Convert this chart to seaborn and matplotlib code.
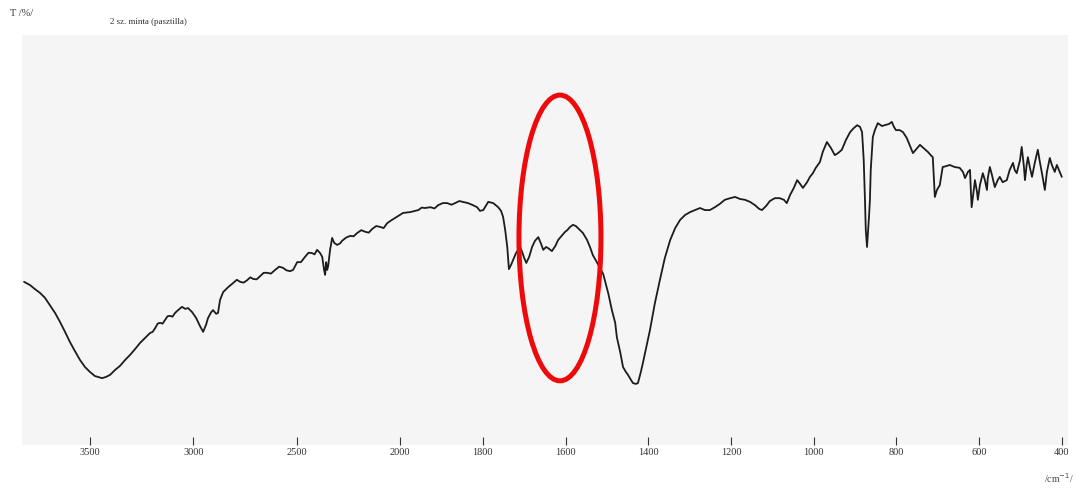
import numpy as np
import pandas as pd
import matplotlib
matplotlib.use("Agg")
import matplotlib.pyplot as plt
from matplotlib.patches import Ellipse
import seaborn as sns

# IR spectrum of sample "2 sz. minta" (KBr pellet), transmittance vs wavenumber
# High-wavenumber part (recorded on the compressed 4000-2000 cm-1 scale)
wn_high = [3819, 3790, 3766, 3742, 3718, 3694, 3669, 3645, 3621, 3597, 3573, 3548,
           3524, 3500, 3476, 3461, 3442, 3423, 3403, 3379, 3355, 3331, 3306, 3282,
           3258, 3234, 3210, 3197, 3185, 3173, 3161, 3149, 3137, 3125, 3113, 3101,
           3089, 3074, 3055, 3040, 3026,
           3006, 2987, 2968, 2953, 2939, 2929, 2914, 2905, 2890, 2881, 2871, 2856,
           2832, 2808, 2790, 2774, 2757, 2740, 2725, 2711, 2694, 2677, 2660, 2644,
           2625, 2605, 2585, 2566, 2550, 2532, 2518, 2498, 2480,
           2460, 2443, 2426, 2414, 2402, 2387, 2377, 2368, 2363, 2358, 2353, 2348,
           2339, 2329, 2319, 2305, 2290, 2281, 2261, 2242, 2225, 2208, 2188, 2169,
           2152, 2135, 2116, 2097, 2080, 2063, 2043, 2024]
t_high = [39.8, 39.0, 38.0, 37.1, 35.9, 34.1, 32.2, 30.0, 27.6, 25.1, 22.9, 20.7,
          19.0, 17.8, 16.8, 16.6, 16.3, 16.6, 17.1, 18.3, 19.3, 20.7, 22.0, 23.4,
          24.9, 26.1, 27.3, 27.6, 28.5, 29.6, 29.8, 29.6, 30.5, 31.4, 31.5, 31.3,
          32.2, 32.9, 33.7, 33.2, 33.4,
          32.4, 31.0, 29.0, 27.6, 29.3, 31.0, 32.4, 32.9, 32.0, 32.2, 35.4, 37.3,
          38.5, 39.5, 40.3, 39.8, 39.6, 40.2, 40.9, 40.5, 40.4, 41.2, 42.0, 42.0,
          41.8, 42.7, 43.5, 43.2, 42.6, 42.4, 42.7, 44.6, 44.6,
          45.9, 46.9, 46.8, 46.5, 47.6, 46.8, 45.9, 42.7, 41.5, 44.6, 42.7, 43.7,
          47.6, 50.5, 49.3, 48.8, 49.2, 49.8, 50.6, 51.0, 50.9, 51.7, 52.4, 52.0,
          51.8, 52.7, 53.4, 53.2, 52.9, 54.1, 54.8, 55.4]

# Low-wavenumber part (2000-400 cm-1 scale)
wn_low = [1993, 1976, 1956, 1948, 1940, 1927, 1917, 1908, 1897, 1886, 1876, 1867,
          1857, 1848, 1836, 1824, 1814,
          1807, 1799, 1787, 1775, 1763, 1756, 1751, 1746, 1741, 1737, 1732, 1727,
          1720, 1710, 1705, 1700, 1695, 1688, 1681, 1674, 1666, 1659, 1654, 1647,
          1642, 1637, 1633, 1625, 1618, 1608, 1601, 1596, 1589, 1582, 1575, 1565,
          1558, 1548, 1541, 1534, 1526, 1517, 1509, 1505, 1497, 1488, 1480, 1476,
          1468, 1461, 1454, 1449, 1442, 1437, 1430, 1425, 1418, 1413, 1405, 1396,
          1384, 1372, 1360, 1347, 1335, 1323, 1311, 1299, 1287, 1275, 1263, 1251,
          1239, 1227, 1215, 1202, 1190, 1178, 1166, 1154, 1142, 1132, 1125, 1115,
          1106, 1094, 1082, 1072, 1065, 1057, 1048, 1040, 1033, 1026, 1016, 1009,
          1002, 995, 985, 978, 968, 958, 949, 941, 932, 922, 912, 903,
          895, 888, 883, 879, 876, 874, 871, 869, 866, 864, 862, 857,
          852, 845, 835, 828, 818, 811, 806, 801, 792, 784, 775, 767,
          760, 753, 743, 734, 724, 717, 712, 707, 702, 695, 690, 688,
          680, 671, 659, 647, 639, 634, 627, 622, 620, 618, 613, 610,
          605, 603, 598, 591, 586, 581, 579, 574, 569, 562, 555, 550,
          543, 533, 526, 518, 514, 509, 501, 497, 492, 489, 485, 482,
          477, 472, 465, 458, 453, 448, 443, 441, 436, 429, 424, 417,
          412, 410, 405, 400]
t_low = [56.6, 56.8, 57.3, 57.9, 57.8, 58.0, 57.7, 58.5, 59.0, 59.0, 58.6, 59.0,
         59.5, 59.3, 59.0, 58.5, 58.0,
         57.1, 57.3, 59.3, 59.0, 58.0, 57.1, 55.6, 52.4, 48.3, 42.9, 43.9, 45.1,
         46.8, 48.3, 47.1, 45.6, 44.4, 45.9, 48.3, 49.8, 50.7, 49.0, 47.6, 48.3,
         48.0, 47.6, 47.3, 48.5, 50.0, 51.2, 52.0, 52.4, 53.2, 53.7, 53.4, 52.4,
         51.7, 50.0, 48.3, 46.3, 44.9, 43.2, 41.7, 40.2, 37.1, 32.9, 29.8, 26.3,
         22.7, 19.0, 17.8, 17.1, 15.9, 15.1, 14.9, 15.1, 17.8, 20.0, 23.7, 28.0,
         34.6, 40.2, 45.6, 50.0, 52.9, 54.9, 56.1, 56.8, 57.3, 57.8, 57.3, 57.3,
         58.0, 58.8, 59.8, 60.2, 60.5, 60.0, 59.8, 59.3, 58.5, 57.6, 57.3, 58.3,
         59.5, 60.2, 60.2, 59.8, 59.0, 61.0, 62.7, 64.6, 63.7, 62.7, 64.1, 65.4,
         66.3, 67.6, 69.0, 71.5, 73.9, 72.4, 70.7, 71.2, 72.0, 74.4, 76.3, 77.3,
         78.0, 77.6, 76.3, 69.5, 59.8, 52.4, 48.3, 51.2, 56.1, 59.8, 67.1, 75.1,
         76.8, 78.5, 77.8, 78.0, 78.3, 78.8, 77.6, 76.8, 76.8, 76.3, 74.9, 72.9,
         71.2, 72.0, 73.2, 72.4, 71.5, 70.7, 70.2, 60.5, 62.2, 63.4, 66.6, 67.8,
         68.0, 68.3, 67.8, 67.6, 66.6, 65.1, 66.6, 67.1, 62.2, 58.0, 62.2, 64.6,
         61.7, 59.8, 63.4, 66.3, 64.6, 62.2, 65.1, 67.8, 65.9, 62.9, 64.6, 65.4,
         64.1, 64.6, 67.1, 68.8, 67.1, 66.3, 69.5, 72.7, 68.3, 64.6, 68.3, 70.2,
         67.6, 65.4, 69.0, 72.0, 69.0, 66.3, 63.4, 62.2, 66.6, 70.0, 68.3, 66.6,
         68.3, 67.8, 66.6, 65.4]

tick_values = [3500, 3000, 2500, 2000, 1800, 1600, 1400, 1200, 1000, 800, 600, 400]
tick_labels = ["3500", "3000", "2500", "2000", "1800", "1600", "1400", "1200",
               "1000", "800", "600", "400"]

spectrum = pd.DataFrame({
    "wavenumber": wn_high + wn_low,
    "T": t_high + t_low,
})

sns.set_theme(style="white")
plt.rcParams["font.family"] = ["Liberation Serif", "DejaVu Serif"]


# Instrument chart paper: above 2000 cm-1 the scale is compressed by a factor of two
def fwd(w):
    w = np.asarray(w, dtype=float)
    return np.where(w > 2000, 2000 + (w - 2000) / 2.0, w)


def inv(p):
    p = np.asarray(p, dtype=float)
    return np.where(p > 2000, 2000 + (p - 2000) * 2.0, p)


fig = plt.figure(figsize=(10.78, 4.88), dpi=100)
fig.patch.set_facecolor("white")
ax = fig.add_axes([22 / 1078, 1 - 445 / 488, 1046 / 1078, 410 / 488])
ax.set_facecolor("#f5f5f5")

sns.lineplot(data=spectrum, x="wavenumber", y="T", ax=ax, color="#1c1c1c",
             linewidth=1.3, estimator=None, sort=True)

ax.set_xscale("function", functions=(fwd, inv))
ax.set_xlim(3829, 385)
ax.set_ylim(0, 100)

ax.set_xticks(tick_values)
ax.set_xticklabels(tick_labels)
ax.tick_params(axis="x", direction="in", length=6, width=0.8, color="#333333",
               pad=2, labelsize=7.5, labelcolor="#333333", bottom=True)
ax.tick_params(axis="y", left=False, labelleft=False)
ax.set_xlabel("")
ax.set_ylabel("")
for s in ax.spines.values():
    s.set_visible(False)

# highlighted band region
ax.add_patch(Ellipse((0.5143, 0.505), 0.0784, 0.697, transform=ax.transAxes,
                     fill=False, edgecolor="#ee0a0a", linewidth=3.6,
                     clip_on=False, zorder=5))

fig.text(10 / 1078, 1 - 14 / 488, "T /%/", fontsize=7.5, color="#333333",
         va="center", ha="left")
fig.text(110 / 1078, 1 - 22 / 488, "2 sz. minta (pasztilla)", fontsize=6.5,
         color="#333333", va="center", ha="left")
fig.text(1044 / 1078, 1 - 478 / 488, r"/cm$^{-1}$/", fontsize=7,
         color="#444444", va="center", ha="left")

fig.savefig("out.png", dpi=100)
